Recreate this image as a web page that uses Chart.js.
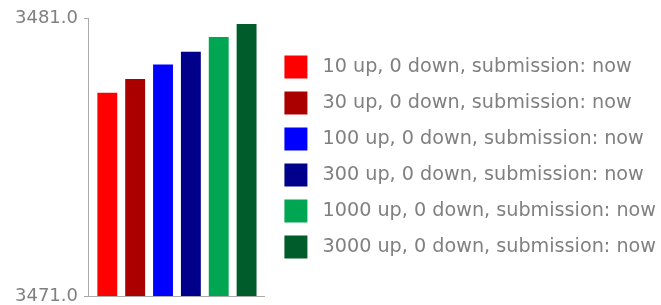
<!DOCTYPE html>
<html lang="en">
<head>
    <meta charset="UTF-8">
    <title>Upvotes chart</title>
    <script src="https://cdn.jsdelivr.net/npm/chart.js"></script>
    <style>
        html, body {
            margin: 0;
            padding: 0;
            background: #ffffff;
        }
        #wrap {
            width: 661px;
            height: 305px;
        }
    </style>
</head>
<body>
    <div id="wrap"><canvas id="chart"></canvas></div>

    <script>
        // data
        const categories = [''];
        const seriesNames = [
            '10 up, 0 down, submission: now',
            '30 up, 0 down, submission: now',
            '100 up, 0 down, submission: now',
            '300 up, 0 down, submission: now',
            '1000 up, 0 down, submission: now',
            '3000 up, 0 down, submission: now'
        ];
        const seriesValues = [3478.31, 3478.81, 3479.33, 3479.79, 3480.32, 3480.78];
        const seriesColors = ['#ff0000', '#aa0000', '#0000ff', '#00008b', '#00a651', '#005c2b'];
        const yTicks = [3471.0, 3481.0];

        const textGrey = '#808080';
        const lineGrey = '#aaaaaa';

        const datasets = seriesNames.map((name, i) => ({
            label: name,
            data: [seriesValues[i]],
            backgroundColor: seriesColors[i],
            borderWidth: 0,
            categoryPercentage: 0.95,
            barPercentage: 0.714
        }));

        // legend swatches: a wide white outline trims the box back to 23px
        // and leaves a bigger gap before the label text
        function legendLabels(chart) {
            const items = Chart.defaults.plugins.legend.labels.generateLabels(chart);
            return items.map(item => Object.assign(item, {strokeStyle: '#ffffff', lineWidth: 11}));
        }

        new Chart(document.getElementById('chart'), {
            type: 'bar',
            data: {labels: categories, datasets: datasets},
            options: {
                responsive: true,
                maintainAspectRatio: false,
                animation: false,
                layout: {padding: {top: 18, right: -5, left: 9, bottom: 9}},
                plugins: {
                    tooltip: {enabled: false},
                    legend: {
                        position: 'right',
                        align: 'center',
                        maxWidth: 420,
                        labels: {
                            boxWidth: 34,
                            boxHeight: 34,
                            padding: 2,
                            color: textGrey,
                            font: {family: 'DejaVu Sans', size: 19.2},
                            generateLabels: legendLabels
                        }
                    }
                },
                scales: {
                    x: {
                        grid: {display: false},
                        ticks: {display: false},
                        border: {display: true, color: lineGrey, width: 1},
                        afterFit: axis => { axis.height = 0; }
                    },
                    y: {
                        min: yTicks[0],
                        max: yTicks[yTicks.length - 1],
                        afterBuildTicks: axis => {
                            axis.ticks = yTicks.map(v => ({value: v}));
                        },
                        // let the end labels hang into the page margin
                        afterFit: axis => {
                            axis.paddingTop = 0;
                            axis.paddingBottom = 0;
                        },
                        grid: {
                            drawOnChartArea: false,
                            drawTicks: true,
                            tickLength: 5,
                            color: lineGrey
                        },
                        border: {display: true, color: lineGrey, width: 1},
                        ticks: {
                            padding: 6,
                            color: textGrey,
                            font: {family: 'DejaVu Sans', size: 18, lineHeight: 1},
                            callback: v => Number(v).toFixed(1)
                        }
                    },
                    // empty axis, only keeps a gap between the bars and the legend
                    gap: {
                        type: 'linear',
                        position: 'right',
                        grid: {display: false},
                        border: {display: false},
                        ticks: {display: false},
                        afterFit: axis => { axis.width = 12; }
                    }
                }
            }
        });
    </script>
</body>
</html>
